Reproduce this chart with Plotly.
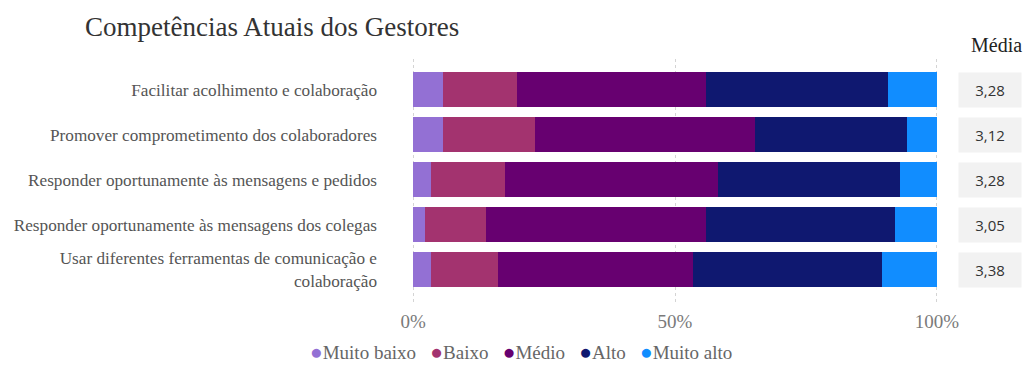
import plotly.graph_objects as go

categories = [
    "Facilitar acolhimento e colaboração",
    "Promover comprometimento dos colaboradores",
    "Responder oportunamente às mensagens e pedidos",
    "Responder oportunamente às mensagens dos colegas",
    "Usar diferentes ferramentas de comunicação e<br>colaboração",
]
levels = ["Muito baixo", "Baixo", "Médio", "Alto", "Muito alto"]
muito_baixo = [5.8, 5.8, 3.5, 2.3, 3.5]
baixo = [14.0, 17.5, 14.0, 11.6, 12.8]
medio = [36.1, 41.9, 40.7, 42.0, 37.2]
alto = [34.8, 29.0, 34.8, 36.0, 36.0]
muito_alto = [9.3, 5.8, 7.0, 8.1, 10.5]
medias = ["3,28", "3,12", "3,28", "3,05", "3,38"]
tick_vals = [0, 50, 100]
tick_text = ["0%", "50%", "100%"]

colors = ["#9370D4", "#A3336F", "#670070", "#0F1870", "#118DFF"]
series = [muito_baixo, baixo, medio, alto, muito_alto]

SERIF = "Liberation Serif"

fig = go.Figure()
for name, vals, col in zip(levels, series, colors):
    fig.add_trace(go.Bar(
        y=categories, x=vals, name=name, orientation="h",
        marker=dict(color=col, line=dict(width=0)),
        width=0.76, showlegend=False, hoverinfo="x+name",
    ))

fig.update_layout(
    barmode="stack",
    width=1025, height=365,
    margin=dict(l=412, r=87, t=59, b=60),
    plot_bgcolor="white", paper_bgcolor="white",
    title=dict(text="Competências Atuais dos Gestores", xref="container", x=85/1025,
               xanchor="left", yref="container", y=1 - 27/365, yanchor="middle",
               font=dict(family=SERIF, size=27, color="#333333")),
    font=dict(family=SERIF),
)
fig.update_xaxes(range=[-0.2, 100.2], tickvals=tick_vals, ticktext=tick_text,
                 showgrid=True, gridcolor="#d4d4d4", griddash="dot", gridwidth=1,
                 zeroline=False, showline=False, automargin=False,
                 tickfont=dict(family=SERIF, size=19, color="#7a7a7a"),
                 ticklabelstandoff=3, fixedrange=True)
fig.update_yaxes(categoryorder="array", categoryarray=categories,
                 range=[4.789, -0.678], showgrid=False, zeroline=False, automargin=False,
                 tickfont=dict(family=SERIF, size=17.2, color="#555555"),
                 ticklabelstandoff=34, fixedrange=True)

# Média column
fig.add_annotation(text="Média", xref="paper", yref="paper", x=(996 - 412) / 526,
                   y=1 + (59 - 45) / 246, xanchor="center", yanchor="middle",
                   showarrow=False, font=dict(family=SERIF, size=20, color="#222222"))
for cat, m in zip(categories, medias):
    fig.add_annotation(text=m, xref="paper", yref="y", x=(990 - 412) / 526, y=cat,
                       xanchor="center", yanchor="middle", showarrow=False,
                       bgcolor="#f2f2f2", width=60, height=32,
                       font=dict(family="Open Sans", size=15, color="#333333"))

# Legend (circle markers)
legend_parts = []
for name, col in zip(levels, colors):
    legend_parts.append(f"<span style='color:{col};font-size:21px'>●</span>{name}")
fig.add_annotation(text="&nbsp;&nbsp;&nbsp;".join(legend_parts), xref="paper", yref="paper",
                   x=(521 - 412) / 526, y=-(352 - 305) / 246, xanchor="center",
                   yanchor="middle", showarrow=False,
                   font=dict(family=SERIF, size=19, color="#666666"))

fig.write_html("out.html", config={"displayModeBar": False},
               post_script="document.body.style.margin='0';document.body.style.overflow='hidden';")
